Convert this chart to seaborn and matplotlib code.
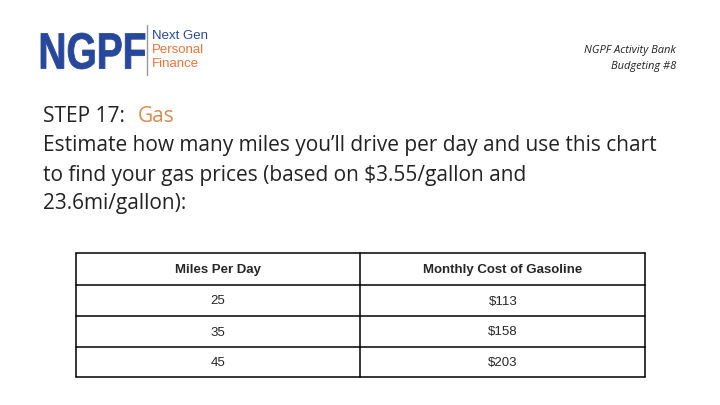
import matplotlib
matplotlib.use("Agg")
import matplotlib.pyplot as plt
import seaborn as sns
from matplotlib.textpath import TextPath
from matplotlib.patches import PathPatch
from matplotlib.font_manager import FontProperties
from matplotlib.transforms import Affine2D

sns.set_theme(style="white")
plt.rcParams['font.family'] = ['Open Sans', 'DejaVu Sans']

headers = ["Miles Per Day", "Monthly Cost of Gasoline"]
miles = ["25", "35", "45"]
costs = ["$113", "$158", "$203"]

BLUE = "#27479a"
ORANGE = "#e8743b"

fig = plt.figure(figsize=(7.2, 4.05), dpi=100)
ax = fig.add_axes([0, 0, 1, 1])
ax.set_xlim(0, 720); ax.set_ylim(405, 0); ax.axis("off")

# logo (condensed by scaling the glyph path)
tp = TextPath((0, 0), "NGPF", size=1, prop=FontProperties(family="Liberation Sans", weight="bold"))
ext = tp.get_extents()
sx = 104 / ext.width
sy = 36 / ext.height
trans = Affine2D().translate(-ext.x0, -ext.y0).scale(sx, -sy).translate(41, 69)
ax.add_patch(PathPatch(trans.transform_path(tp), color=BLUE, lw=0.6))
ax.plot([147, 147], [25, 75], color="#999999", lw=1)
ax.text(152, 36, "Next Gen", fontsize=9.5, color=BLUE, va="center", family=["Liberation Sans"])
ax.text(152, 50, "Personal", fontsize=9.5, color=ORANGE, va="center", family=["Liberation Sans"])
ax.text(152, 64, "Finance", fontsize=9.5, color=ORANGE, va="center", family=["Liberation Sans"])

ax.text(676, 51, "NGPF Activity Bank", fontsize=8, style="italic", ha="right", va="center", color="#222222")
ax.text(676, 67, "Budgeting #8", fontsize=8, style="italic", ha="right", va="center", color="#222222")

FS = 15
ax.text(43, 117, "STEP 17:", fontsize=FS, va="center", color="#222222")
ax.text(138, 117, "Gas", fontsize=FS, va="center", color="#d98a4e")
body = ["Estimate how many miles you\u2019ll drive per day and use this chart",
        "to find your gas prices (based on $3.55/gallon and",
        "23.6mi/gallon):"]
for i, line in enumerate(body):
    ax.text(43, 146 + 29 * i, line, fontsize=FS, va="center", color="#222222")

# table
x0, xm, x1 = 76, 360, 645
ys = [253, 285, 316, 347, 377]
LW = 1.1
for y in ys:
    ax.plot([x0, x1], [y, y], color="black", lw=LW)
for x in (x0, xm, x1):
    ax.plot([x, x], [ys[0], ys[-1]], color="black", lw=LW)

tf = ["Liberation Sans"]
ax.text(218, (ys[0] + ys[1]) / 2 + 1, headers[0], fontsize=9.5, ha="center", va="center", family=tf, fontweight="bold")
ax.text(503, (ys[0] + ys[1]) / 2 + 1, headers[1], fontsize=9.5, ha="center", va="center", family=tf, fontweight="bold")
for i, (m, c) in enumerate(zip(miles, costs)):
    yc = (ys[i + 1] + ys[i + 2]) / 2 + 1
    ax.text(218, yc, m, fontsize=9.5, ha="center", va="center", family=tf)
    ax.text(503, yc, c, fontsize=9.5, ha="center", va="center", family=tf)

fig.savefig("out.png", dpi=100)
